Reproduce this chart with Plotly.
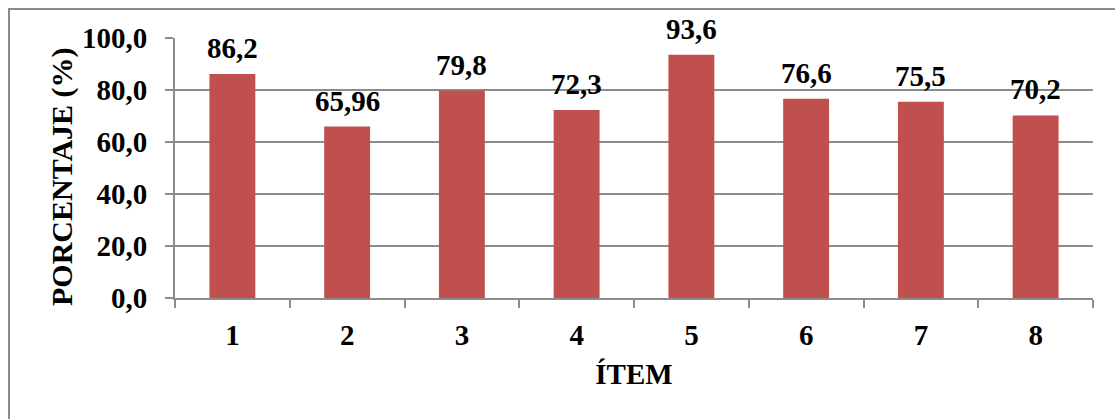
import plotly.graph_objects as go

# Item numbers and the percentage obtained for each
items = ["1", "2", "3", "4", "5", "6", "7", "8"]
porcentajes = [86.2, 65.96, 79.8, 72.3, 93.6, 76.6, 75.5, 70.2]
y_ticks = [0, 20, 40, 60, 80, 100]

BAR_COLOR = "#C0504D"
GRID = "#8C8C8C"
FONT = "Liberation Serif"
FS = 29

W, H = 1115, 419
M_L, M_R, M_T, M_B = 175, 22, 38, 121
pw = W - M_L - M_R
ph = H - M_T - M_B


def bold(s):
    return "<b>" + s + "</b>"


fig = go.Figure(
    go.Bar(
        x=items,
        y=porcentajes,
        marker=dict(color=BAR_COLOR, line=dict(width=0)),
        hoverinfo="skip",
    )
)

# value labels above each bar, using decimal commas
for i, v in enumerate(porcentajes):
    fig.add_annotation(
        x=i, y=v, xref="x", yref="y",
        text=bold(str(v).replace(".", ",")),
        showarrow=False, yanchor="bottom", yshift=8,
        font=dict(family=FONT, size=FS, color="black"),
    )

# vertical axis title
fig.add_annotation(
    x=(62 - M_L) / pw, y=1 - (177 - M_T) / ph, xref="paper", yref="paper",
    text=bold("PORCENTAJE (%)"), textangle=-90, showarrow=False,
    xanchor="center", yanchor="middle",
    font=dict(family=FONT, size=30, color="black"),
)

# outer frame around the whole chart
fig.add_shape(
    type="rect", xref="paper", yref="paper",
    x0=(9 - M_L) / pw, x1=1.2,
    y0=-1.0, y1=1 + (M_T - 9) / ph,
    line=dict(color="#8A8A8A", width=2),
    fillcolor="rgba(0,0,0,0)", layer="below",
)

fig.update_layout(
    width=W, height=H,
    margin=dict(l=M_L, r=M_R, t=M_T, b=M_B, pad=0),
    paper_bgcolor="white", plot_bgcolor="white",
    bargap=0.6,
    showlegend=False,
    font=dict(family=FONT, size=FS, color="black"),
)

fig.update_xaxes(
    type="category",
    tickvals=items, ticktext=[bold(t) for t in items],
    showline=True, linecolor=GRID, linewidth=2,
    ticks="outside", tickson="boundaries", ticklen=8, tickcolor=GRID, tickwidth=2,
    showgrid=False,
    tickfont=dict(family=FONT, size=FS),
    ticklabelstandoff=10,
    title=dict(text=bold("ÍTEM"), font=dict(family=FONT, size=FS), standoff=14),
)

fig.update_yaxes(
    range=[0, 100],
    tickvals=y_ticks,
    ticktext=[bold(f"{t:.1f}".replace(".", ",")) for t in y_ticks],
    showline=True, linecolor=GRID, linewidth=2,
    ticks="outside", ticklen=8, tickcolor=GRID, tickwidth=2,
    showgrid=True, gridcolor=GRID, gridwidth=2,
    zeroline=False,
    tickfont=dict(family=FONT, size=FS),
    ticklabelstandoff=12,
)

fig.write_html("out.html")
